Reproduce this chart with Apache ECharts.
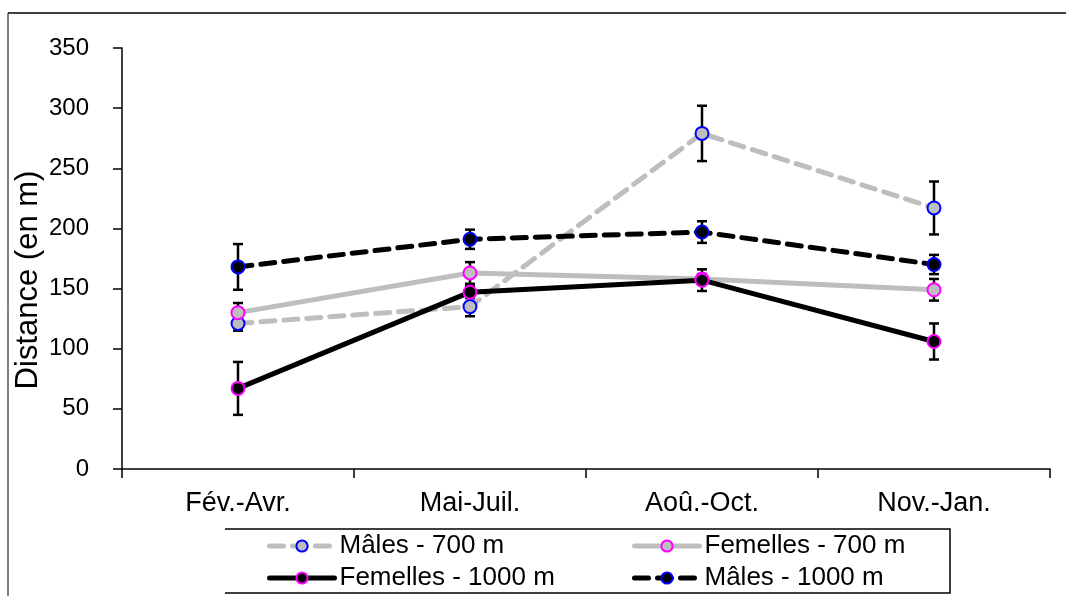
<!DOCTYPE html>
<html>
<head>
<meta charset="utf-8">
<script src="https://cdn.jsdelivr.net/npm/echarts@6/dist/echarts.min.js"></script>
<style>
  html, body { margin: 0; padding: 0; background: #fff; }
  #myChart { width: 1066px; height: 596px; }
</style>
</head>
<body>
<div id="myChart"></div>
<script>
// categories (saisons)
var periodes = ['Fév.-Avr.', 'Mai-Juil.', 'Aoû.-Oct.', 'Nov.-Jan.'];
var yTicks = [0, 50, 100, 150, 200, 250, 300, 350];
var titreY = 'Distance (en m)';

// moyennes
var males700 = [121, 135, 279, 217];
var femelles700 = [130, 163, 158, 149];
var femelles1000 = [67, 147, 157, 106];
var males1000 = [168, 191, 197, 170];

// erreurs (demi-barres)
var errMales700 = [6, 8, 23, 22];
var errFemelles700 = [8, 9, 4, 9];
var errFemelles1000 = [22, 5, 9, 15];
var errMales1000 = [19, 8, 9, 8];

var police = 'Liberation Sans, Arial, sans-serif';
var gris = '#BEBEBE';

function ligne(name, data, color, dashed, border) {
  return {
    name: name,
    type: 'line',
    data: data,
    z: 3,
    symbol: 'circle',
    symbolSize: 13,
    lineStyle: { color: color, width: 5, type: dashed ? [14, 9] : 'solid', cap: 'round' },
    itemStyle: { color: color, borderColor: border, borderWidth: 2 },
    animation: false
  };
}

function barres(moy, err) {
  var d = [];
  for (var i = 0; i < moy.length; i++) d.push([i, moy[i] - err[i], moy[i] + err[i]]);
  return {
    type: 'custom',
    z: 2,
    silent: true,
    animation: false,
    data: d,
    renderItem: function (params, api) {
      var bas = api.coord([api.value(0), api.value(1)]);
      var haut = api.coord([api.value(0), api.value(2)]);
      var w = 5;
      var st = { stroke: '#000', lineWidth: 2.5 };
      return {
        type: 'group',
        children: [
          { type: 'line', shape: { x1: bas[0], y1: bas[1], x2: haut[0], y2: haut[1] }, style: st },
          { type: 'line', shape: { x1: bas[0] - w, y1: bas[1], x2: bas[0] + w, y2: bas[1] }, style: st },
          { type: 'line', shape: { x1: haut[0] - w, y1: haut[1], x2: haut[0] + w, y2: haut[1] }, style: st }
        ]
      };
    }
  };
}

function legende(name, left, top) {
  return {
    data: [name],
    left: left,
    top: top,
    padding: 0,
    itemWidth: 65,
    itemHeight: 14,
    selectedMode: false,
    lineStyle: { width: 5 },
    textStyle: { fontFamily: police, fontSize: 26, color: '#000' }
  };
}

var Chart = echarts.init(document.getElementById('myChart'));
Chart.setOption({
  backgroundColor: '#fff',
  grid: { left: 122, right: 16, top: 48, bottom: 127 },
  legend: [
    legende('Mâles - 700 m', 267, 533),
    legende('Femelles - 700 m', 632, 533),
    legende('Femelles - 1000 m', 267, 565),
    legende('Mâles - 1000 m', 632, 565)
  ],
  graphic: [
    // cadre extérieur (haut et gauche)
    { type: 'line', shape: { x1: 8, y1: 13, x2: 1066, y2: 13 }, style: { stroke: '#000', lineWidth: 1.5 } },
    { type: 'line', shape: { x1: 8, y1: 13, x2: 8, y2: 596 }, style: { stroke: '#000', lineWidth: 1 } },
    // cadre de la légende
    { type: 'polyline', shape: { points: [[225, 529], [950, 529], [950, 593], [225, 593]] }, style: { stroke: '#000', lineWidth: 1.5, fill: null } },
    // titre de l'axe Y
    {
      type: 'text', x: 28, y: 280, rotation: Math.PI / 2,
      style: { text: titreY, fontFamily: police, fontSize: 31, fill: '#000', align: 'center', verticalAlign: 'middle' }
    }
  ],
  xAxis: {
    type: 'category',
    data: periodes,
    boundaryGap: true,
    axisLine: { onZero: false, lineStyle: { color: '#000', width: 1.5 } },
    axisTick: { show: true, length: 9, alignWithLabel: false, lineStyle: { color: '#000', width: 1.5 } },
    axisLabel: { margin: 21, fontFamily: police, fontSize: 27, color: '#000' },
    splitLine: { show: false }
  },
  yAxis: {
    type: 'value',
    min: yTicks[0],
    max: yTicks[yTicks.length - 1],
    interval: 50,
    axisLine: { show: true, lineStyle: { color: '#000', width: 1.5 } },
    axisTick: { show: true, length: 9, lineStyle: { color: '#000', width: 1.5 } },
    axisLabel: { margin: 33, fontFamily: police, fontSize: 24, color: '#000' },
    splitLine: { show: false }
  },
  series: [
    barres(males700, errMales700),
    barres(femelles700, errFemelles700),
    barres(femelles1000, errFemelles1000),
    barres(males1000, errMales1000),
    ligne('Mâles - 700 m', males700, gris, true, '#0000FF'),
    ligne('Femelles - 700 m', femelles700, gris, false, '#FF00FF'),
    ligne('Femelles - 1000 m', femelles1000, '#000', false, '#FF00FF'),
    ligne('Mâles - 1000 m', males1000, '#000', true, '#0000FF')
  ]
}, true);
</script>
</body>
</html>
